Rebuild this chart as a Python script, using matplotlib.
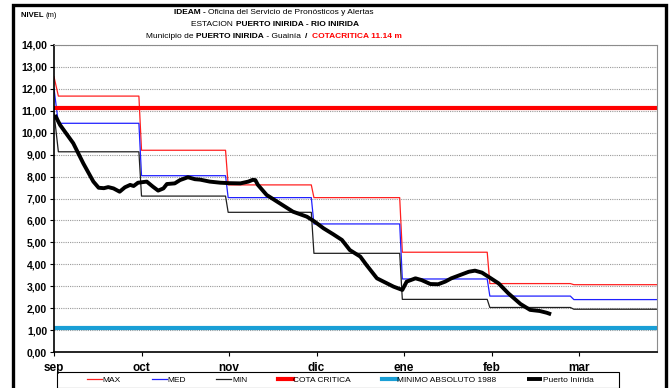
import matplotlib
matplotlib.use("Agg")
import matplotlib.pyplot as plt
from matplotlib.patches import Rectangle
from matplotlib.offsetbox import TextArea, HPacker, AnnotationBbox

plt.rcParams['font.family'] = ['Liberation Sans', 'DejaVu Sans']

# x axis in months counted from 1 sep
months = ['sep', 'oct', 'nov', 'dic', 'ene', 'feb', 'mar']

# historical monthly levels (m) as step lines
step_x = [0, 0.05, 0.97, 1.0, 1.96, 1.99, 2.94, 2.97, 3.95, 3.98, 4.95, 4.98, 5.9, 5.94, 6.9]
max_lv = [12.55, 11.67, 11.67, 9.2, 9.2, 7.62, 7.62, 7.04, 7.04, 4.55, 4.55, 3.12, 3.12, 3.07, 3.07]
med_lv = [12.02, 10.43, 10.43, 8.04, 8.04, 7.04, 7.04, 5.84, 5.84, 3.33, 3.33, 2.55, 2.55, 2.39, 2.39]
min_lv = [10.9, 9.13, 9.13, 7.11, 7.11, 6.37, 6.37, 4.5, 4.5, 2.4, 2.4, 2.03, 2.03, 1.95, 1.95]

cota_critica = 11.14
minimo_1988 = 1.08

# observed level at Puerto Inírida
obs_x = [0.01, 0.07, 0.22, 0.335, 0.45, 0.51, 0.57, 0.62, 0.68, 0.75, 0.81, 0.87, 0.91, 0.96,
         1.06, 1.13, 1.19, 1.25, 1.29, 1.38, 1.44, 1.53, 1.61, 1.67, 1.78, 1.90, 2.0, 2.13,
         2.22, 2.27, 2.30, 2.33, 2.43, 2.58, 2.73, 2.89, 2.98, 3.08, 3.19, 3.29, 3.38, 3.50,
         3.57, 3.69, 3.73, 3.88, 3.98, 4.03, 4.13, 4.20, 4.30, 4.39, 4.47, 4.54, 4.64, 4.74,
         4.81, 4.89, 4.98, 5.08, 5.19, 5.33, 5.44, 5.55, 5.63, 5.68]
obs_y = [10.81, 10.35, 9.52, 8.60, 7.77, 7.49, 7.47, 7.52, 7.46, 7.31, 7.51, 7.62, 7.57, 7.72,
         7.77, 7.54, 7.36, 7.46, 7.66, 7.69, 7.84, 7.97, 7.88, 7.86, 7.77, 7.72, 7.70, 7.69,
         7.77, 7.85, 7.84, 7.62, 7.16, 6.78, 6.40, 6.17, 5.94, 5.64, 5.37, 5.11, 4.65, 4.35,
         3.97, 3.36, 3.28, 2.98, 2.83, 3.21, 3.36, 3.28, 3.10, 3.09, 3.21, 3.36, 3.51, 3.66,
         3.71, 3.62, 3.39, 3.13, 2.68, 2.19, 1.92, 1.87, 1.79, 1.72]

W, H = 672, 388
fig = plt.figure(figsize=(W / 100, H / 100), dpi=100)
ax = fig.add_axes([54 / W, 1 - 352 / H, (657 - 54) / W, (352 - 45) / H])

ax.plot(step_x, max_lv, color='#ff2020', lw=0.9, label='MAX')
ax.plot(step_x, med_lv, color='#2020ff', lw=0.9, label='MED')
ax.plot(step_x, min_lv, color='#202020', lw=0.9, label='MIN')
ax.axhline(cota_critica, color='#ff0000', lw=3, label='COTA CRITICA')
ax.axhline(minimo_1988, color='#1a9fd6', lw=3, label='MINIMO ABSOLUTO 1988')
ax.plot(obs_x, obs_y, color='black', lw=2.8, solid_capstyle='butt', label='Puerto Inírida')

ax.set_xlim(0, 6.89)
ax.set_ylim(0, 14)
ax.set_yticks(range(15))
ax.set_yticklabels([f'{v},00' for v in range(15)], fontsize=7.5, fontweight='bold')
ax.set_xticks(range(len(months)))
ax.set_xticklabels(months, fontsize=8.5, fontweight='bold')
ax.tick_params(axis='both', direction='out', length=3, width=0.8, color='black', pad=2)
ax.tick_params(axis='x', pad=4)
ax.grid(axis='y', color='#9a9a9a', lw=0.8, ls=(0, (1, 1)))
ax.set_axisbelow(True)
for s in ['top', 'right']:
    ax.spines[s].set_color('#8c8c8c')
    ax.spines[s].set_linewidth(0.8)
for s in ['left', 'bottom']:
    ax.spines[s].set_color('black')
    ax.spines[s].set_linewidth(1.2)

# outer frame around the whole chart
fig.patches.append(Rectangle((13 / W, -0.05), (666 - 13) / W, 1.05 - 5 / H,
                             transform=fig.transFigure, fill=False,
                             edgecolor='black', lw=2.4, clip_on=False))


def rich_line(parts, x, y, size):
    boxes = [TextArea(t, textprops=dict(fontsize=size, fontweight=w, color=c))
             for t, w, c in parts]
    pack = HPacker(children=boxes, pad=0, sep=0, align='baseline')
    ab = AnnotationBbox(pack, (x / W, 1 - y / H), xycoords='figure fraction',
                        box_alignment=(0.5, 0.5), frameon=False, pad=0)
    fig.add_artist(ab)


rich_line([('IDEAM - ', 'bold', 'black'),
           ('Oficina del Servicio de Pronósticos y Alertas', 'normal', 'black')], 274, 13, 6.0)
rich_line([('ESTACION ', 'normal', 'black'),
           ('PUERTO INIRIDA - RIO INIRIDA', 'bold', 'black')], 275, 25, 6.0)
rich_line([('Municipio de ', 'normal', 'black'),
           ('PUERTO INIRIDA', 'bold', 'black'),
           (' - Guainía  ', 'normal', 'black'),
           ('/  ', 'bold', 'black'),
           ('COTACRITICA 11.14 m', 'bold', '#ff0000')], 274, 37, 6.0)

nivel = HPacker(children=[TextArea('NIVEL ', textprops=dict(fontsize=5.5, fontweight='bold')),
                          TextArea('(m)', textprops=dict(fontsize=5.5))],
                pad=0, sep=0, align='baseline')
fig.add_artist(AnnotationBbox(nivel, (21 / W, 1 - 15.5 / H), xycoords='figure fraction',
                              box_alignment=(0, 0.5), frameon=False, pad=0))

# legend row with its own frame along the bottom edge
fig.patches.append(Rectangle((57 / W, 1 - 387.5 / H), (619 - 57) / W, 15.5 / H,
                             transform=fig.transFigure, fill=False,
                             edgecolor='black', lw=0.8, clip_on=False))
fig.legend(*ax.get_legend_handles_labels(), loc='center left', ncol=6,
           bbox_to_anchor=(87 / W, 1 - 380 / H), fontsize=6, frameon=False,
           handlelength=1.8, handletextpad=0.1, borderpad=0, columnspacing=3.65,
           borderaxespad=0)

fig.savefig('out.png', dpi=100)
